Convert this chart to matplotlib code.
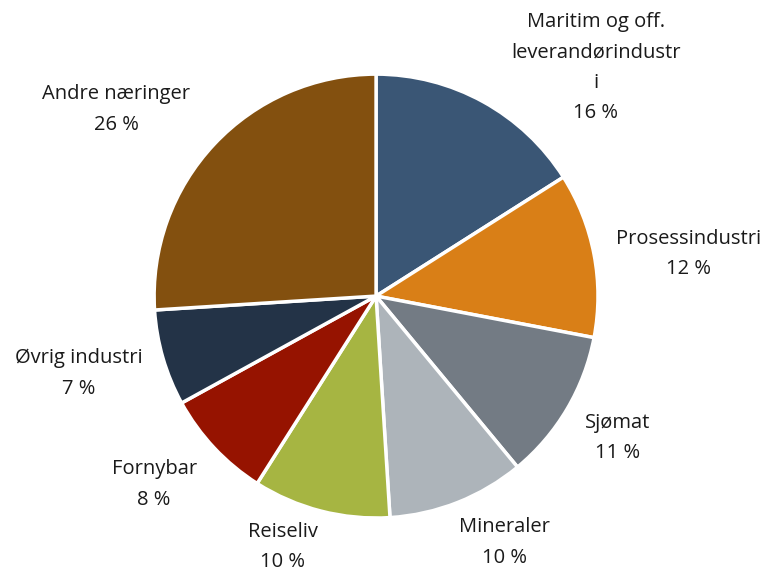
import numpy as np
import matplotlib.pyplot as plt

plt.rcParams['font.family'] = ['Open Sans', 'DejaVu Sans']

names = ['Maritim og off.\nleverandørindustr\ni', 'Prosessindustri', 'Sjømat', 'Mineraler',
         'Reiseliv', 'Fornybar', 'Øvrig industri', 'Andre næringer']
shares = [16, 12, 11, 10, 10, 8, 7, 26]
colors = ['#3A5675', '#D97F17', '#737B84', '#ADB4BA', '#A6B542', '#961300', '#233347', '#83500F']
# label centres in units of the pie radius
label_x = [0.99, 1.41, 1.09, 0.58, -0.42, -1.0, -1.34, -1.17]
label_y = [1.03, 0.19, -0.64, -1.11, -1.13, -0.85, -0.35, 0.84]

fig = plt.figure(figsize=(7.67, 5.72), dpi=100)
ax = fig.add_axes([0.2008, 0.0944, 0.579, 0.776])

wedges, _ = ax.pie(shares, colors=colors, startangle=90, counterclock=False,
                   wedgeprops=dict(edgecolor='white', linewidth=2.5))

for name, s, x, y in zip(names, shares, label_x, label_y):
    ax.text(x, y, f'{name}\n{s} %', ha='center', va='center',
            fontsize=14.5, linespacing=1.7, color='#1a1a1a')

ax.set_xlim(-1, 1)
ax.set_ylim(-1, 1)
ax.set_aspect('equal')
fig.savefig('out.png', dpi=100)
